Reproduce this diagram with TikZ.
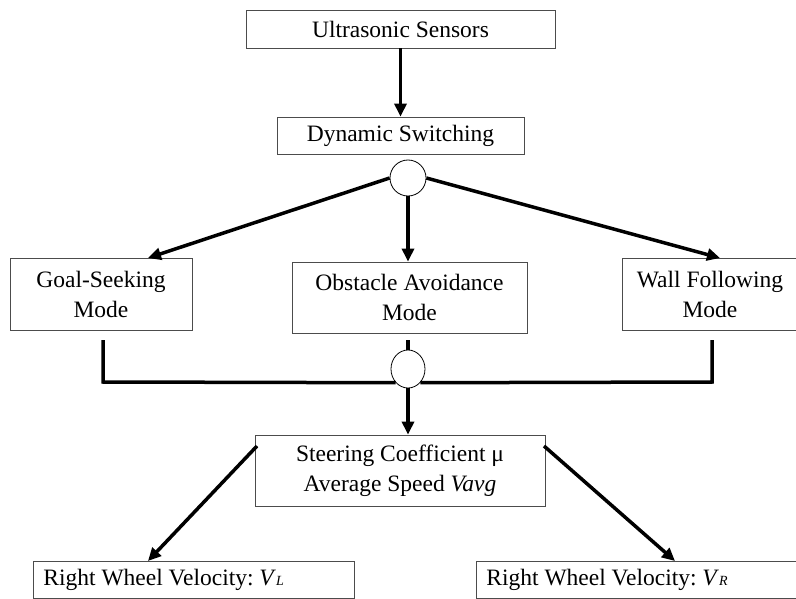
\documentclass[tikz,border=0pt]{standalone}
\usepackage{fontspec}
\setmainfont{Liberation Serif}
\usetikzlibrary{arrows.meta,shapes.geometric}
\begin{document}
\frenchspacing
\begin{tikzpicture}[x=1pt,y=-1pt,
  box/.style={draw=black!70, line width=0.8pt, inner sep=0pt, align=center, font=\fontsize{23.5}{30}\selectfont},
  vbox/.style={box, inner xsep=10pt, text width=301pt, align=flush left, minimum height=37pt, anchor=west},
  conn/.style={line width=3.5pt},
  arr/.style={line width=3.5pt, -{Triangle[length=13pt,width=12pt]}},
  junc/.style={draw, line width=0.8pt, fill=white, circle, inner sep=0pt, minimum size=36pt},
  junce/.style={draw, line width=0.8pt, fill=white, ellipse, inner sep=0pt, minimum width=34pt, minimum height=38pt}]
\useasboundingbox (0,0) rectangle (796,599);
\node[box, minimum width=309pt, minimum height=38pt] (us) at (400.5,29) {Ultrasonic Sensors};
\node[box, minimum width=247pt, minimum height=37pt] (ds) at (400.5,135.5) {Dynamic Switching};
\node[box, minimum width=182pt, minimum height=72pt] (gs) at (101,294) {Goal-Seeking\\Mode};
\node[box, minimum width=235pt, minimum height=71pt] (oa) at (409.5,297.5) {Obstacle Avoidance\\Mode};
\node[box, minimum width=176pt, minimum height=72pt] (wf) at (710,294) {Wall Following\\Mode};
\node[box, minimum width=290pt, minimum height=71pt] (sc) at (400,470.5) {Steering Coefficient μ\\Average Speed \textit{Vavg}};
\node[vbox] (vl) at (33,579.5) {\frenchspacing Right Wheel Velocity: \textit{V}{\fontsize{14}{16}\selectfont\textit{L}}};
\node[vbox] (vr) at (476,579.5) {\frenchspacing Right Wheel Velocity: \textit{V}{\fontsize{14}{16}\selectfont\textit{R}}};
\node[junc] (j1) at (408,178) {};
\node[junce] (j2) at (408,369) {};
\coordinate (gsa) at (148,258);
\coordinate (wfa) at (720,258);
\coordinate (gsb) at (103,340);
\coordinate (wfb) at (712,340);
\coordinate (gsc) at (103,382);
\coordinate (wfc) at (712,382);
\coordinate (oab) at (408,340);
\coordinate (sc1) at (257,446);
\coordinate (sc2) at (544,446);
\coordinate (vla) at (148,561);
\coordinate (vra) at (675,561);
\draw[arr] (us.south) -- (ds.north);
\draw[arr] (j1.west) -- (gsa);
\draw[arr] (j1.east) -- (wfa);
\draw[arr] (j1.south) -- (oa.north -| j1.south);
\draw[conn] (gsb) -- (gsc) -- (j2.south west);
\draw[conn] (wfb) -- (wfc) -- (j2.south east);
\draw[conn] (oab) -- (j2.north);
\draw[arr] (j2.south) -- (sc.north -| j2.south);
\draw[arr] (sc1) -- (vla);
\draw[arr] (sc2) -- (vra);
\end{tikzpicture}
\end{document}
